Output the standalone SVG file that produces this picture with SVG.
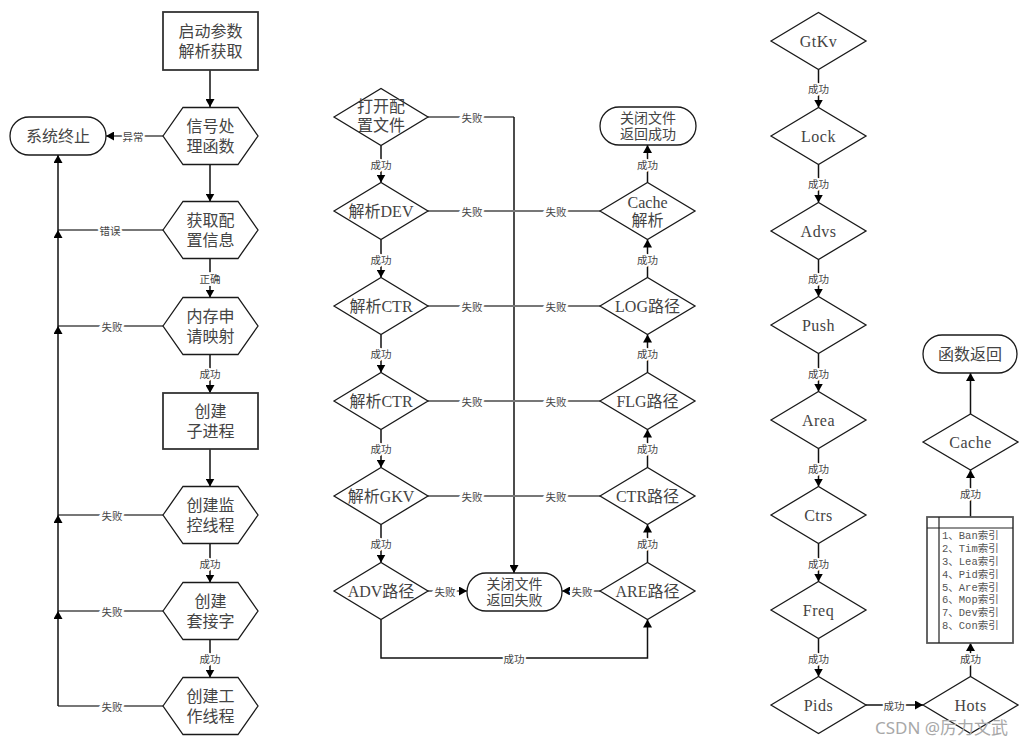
<svg xmlns="http://www.w3.org/2000/svg" width="1027" height="745" viewBox="0 0 1027 745">
<style>
.shape{fill:#fff;stroke:#1a1a1a;stroke-width:1.3}
.box{fill:#fff;stroke:#333;stroke-width:1.8}
.t{font-family:"Liberation Serif","Noto Sans CJK SC",serif;font-size:16px;fill:#444;text-anchor:middle;dominant-baseline:central}
.tm{font-family:"Liberation Serif","Noto Sans CJK SC",serif;font-size:16px;fill:#444;text-anchor:middle;dominant-baseline:central;letter-spacing:0.5px}
.ts{font-family:"Liberation Serif","Noto Sans CJK SC",serif;font-size:14px;fill:#444;text-anchor:middle;dominant-baseline:central}
.tt{font-family:"Liberation Mono","Noto Sans CJK SC",monospace;font-size:10.5px;fill:#555;dominant-baseline:central}
.c{fill:none;stroke:#111;stroke-width:1.5}
.g{fill:none;stroke:#777;stroke-width:2}
.a{marker-end:url(#arr)}
.l{font-family:"Noto Sans CJK SC",sans-serif;font-size:10.5px;fill:#444;text-anchor:middle;dominant-baseline:central;stroke:#fff;stroke-width:4;paint-order:stroke}
.wm{font-family:"Noto Sans","Noto Sans CJK SC",sans-serif;font-size:17px;fill:#a8a8a8}
</style>
<defs>
<marker id="arr" markerUnits="userSpaceOnUse" markerWidth="9" markerHeight="9" refX="8" refY="4.5" orient="auto">
<path d="M0,0 L8,4.5 L0,9 z" fill="#000"/>
</marker>
</defs>

<g id="connectors">
<!-- left column -->
<path class="c a" d="M210,70 V107"/>
<path class="c a" d="M210,164.5 V201.5"/>
<path class="c a" d="M210,258.5 V297.5"/>
<path class="c a" d="M210,354.5 V393"/>
<path class="c a" d="M210,449 V486.5"/>
<path class="c a" d="M210,543.5 V582.5"/>
<path class="c a" d="M210,639.5 V677.5"/>
<path class="g a" d="M163,136 H106"/>
<path class="g" d="M163,230 H58"/>
<path class="g" d="M163,326 H58"/>
<path class="g" d="M163,515 H58"/>
<path class="g" d="M163,611 H58"/>
<path class="g" d="M163,706 H58"/>
<path class="c a" d="M58,706 V611"/>
<path class="c a" d="M58,611 V515"/>
<path class="c a" d="M58,515 V326"/>
<path class="c a" d="M58,326 V230"/>
<path class="c a" d="M58,230 V155"/>
<text class="l" x="133" y="136">异常</text>
<text class="l" x="110" y="230">错误</text>
<text class="l" x="112" y="326">失败</text>
<text class="l" x="112" y="515">失败</text>
<text class="l" x="112" y="611">失败</text>
<text class="l" x="112" y="706">失败</text>
<text class="l" x="210" y="278">正确</text>
<text class="l" x="210" y="373">成功</text>
<text class="l" x="210" y="563">成功</text>
<text class="l" x="210" y="658">成功</text>

<!-- middle column -->
<path class="c a" d="M381,145.5 V182.5"/>
<path class="c a" d="M381,239.5 V277.5"/>
<path class="c a" d="M381,334.5 V372.5"/>
<path class="c a" d="M381,429.5 V467.5"/>
<path class="c a" d="M381,524.5 V562.5"/>
<path class="c a" d="M647.5,562.5 V524.5"/>
<path class="c a" d="M647.5,467.5 V429.5"/>
<path class="c a" d="M647.5,372.5 V334.5"/>
<path class="c a" d="M647.5,277.5 V239.5"/>
<path class="c a" d="M647.5,182.5 V145"/>
<path class="g" d="M428,117 H514"/>
<path class="c a" d="M514,117 V573"/>
<path class="g" d="M428,211 H514"/>
<path class="g" d="M428,306 H514"/>
<path class="g" d="M428,401 H514"/>
<path class="g" d="M428,496 H514"/>
<path class="g" d="M600,211 H514"/>
<path class="g" d="M600,306 H514"/>
<path class="g" d="M600,401 H514"/>
<path class="g" d="M600,496 H514"/>
<path class="g a" d="M428,591 H467"/>
<path class="g a" d="M600,591 H562"/>
<path class="c a" d="M381,619.5 V658 H647.5 V619.5"/>
<text class="l" x="381" y="164">成功</text>
<text class="l" x="381" y="259">成功</text>
<text class="l" x="381" y="353">成功</text>
<text class="l" x="381" y="448">成功</text>
<text class="l" x="381" y="543">成功</text>
<text class="l" x="647.5" y="164">成功</text>
<text class="l" x="647.5" y="259">成功</text>
<text class="l" x="647.5" y="353">成功</text>
<text class="l" x="647.5" y="448">成功</text>
<text class="l" x="647.5" y="543">成功</text>
<text class="l" x="472" y="117">失败</text>
<text class="l" x="472" y="211">失败</text>
<text class="l" x="472" y="306">失败</text>
<text class="l" x="472" y="401">失败</text>
<text class="l" x="472" y="496">失败</text>
<text class="l" x="556" y="211">失败</text>
<text class="l" x="556" y="306">失败</text>
<text class="l" x="556" y="401">失败</text>
<text class="l" x="556" y="496">失败</text>
<text class="l" x="445" y="591">失败</text>
<text class="l" x="582" y="591">失败</text>
<text class="l" x="514" y="658">成功</text>

<!-- right column -->
<path class="c a" d="M818.5,69.5 V107.5"/>
<path class="c a" d="M818.5,164.5 V202.5"/>
<path class="c a" d="M818.5,259.5 V296.5"/>
<path class="c a" d="M818.5,353.5 V391.5"/>
<path class="c a" d="M818.5,448.5 V486.5"/>
<path class="c a" d="M818.5,543.5 V581.5"/>
<path class="c a" d="M818.5,638.5 V676.5"/>
<path class="c a" d="M866,705 H923"/>
<path class="c a" d="M970.5,676.5 V643"/>
<path class="c a" d="M970.5,517 V470"/>
<path class="c a" d="M970.5,414 V373"/>
<text class="l" x="818.5" y="88">成功</text>
<text class="l" x="818.5" y="183">成功</text>
<text class="l" x="818.5" y="278">成功</text>
<text class="l" x="818.5" y="373">成功</text>
<text class="l" x="818.5" y="468">成功</text>
<text class="l" x="818.5" y="563">成功</text>
<text class="l" x="818.5" y="658">成功</text>
<text class="l" x="894" y="705">成功</text>
<text class="l" x="970.5" y="658">成功</text>
<text class="l" x="970.5" y="493">成功</text>
</g>

<!-- left column nodes -->
<g id="n_start">
<rect class="box" x="163" y="12" width="95" height="58"/>
<text class="t" x="210.5" y="31">启动参数</text>
<text class="t" x="210.5" y="51">解析获取</text>
</g>
<g id="n_signal">
<polygon class="shape" points="163,136 183,107.5 238,107.5 258,136 238,164.5 183,164.5"/>
<text class="t" x="210.5" y="126">信号处</text>
<text class="t" x="210.5" y="146">理函数</text>
</g>
<g id="n_stop">
<rect class="shape" x="10" y="117" width="96" height="38" rx="19"/>
<text class="t" x="58" y="136">系统终止</text>
</g>
<g id="n_config">
<polygon class="shape" points="163,230 183,201.5 238,201.5 258,230 238,258.5 183,258.5"/>
<text class="t" x="210.5" y="220">获取配</text>
<text class="t" x="210.5" y="240">置信息</text>
</g>
<g id="n_mem">
<polygon class="shape" points="163,326 183,297.5 238,297.5 258,326 238,354.5 183,354.5"/>
<text class="t" x="210.5" y="316">内存申</text>
<text class="t" x="210.5" y="336">请映射</text>
</g>
<g id="n_child">
<rect class="box" x="163" y="393" width="95" height="56"/>
<text class="t" x="210.5" y="411">创建</text>
<text class="t" x="210.5" y="431">子进程</text>
</g>
<g id="n_monitor">
<polygon class="shape" points="163,515 183,486.5 238,486.5 258,515 238,543.5 183,543.5"/>
<text class="t" x="210.5" y="505">创建监</text>
<text class="t" x="210.5" y="525">控线程</text>
</g>
<g id="n_socket">
<polygon class="shape" points="163,611 183,582.5 238,582.5 258,611 238,639.5 183,639.5"/>
<text class="t" x="210.5" y="601">创建</text>
<text class="t" x="210.5" y="621">套接字</text>
</g>
<g id="n_worker">
<polygon class="shape" points="163,706 183,677.5 238,677.5 258,706 238,734.5 183,734.5"/>
<text class="t" x="210.5" y="696">创建工</text>
<text class="t" x="210.5" y="716">作线程</text>
</g>

<!-- middle column nodes -->
<g id="n_open">
<polygon class="shape" points="334,117 381,88.5 428,117 381,145.5"/>
<text class="t" x="381" y="106">打开配</text>
<text class="t" x="381" y="125">置文件</text>
</g>
<g id="n_dev">
<polygon class="shape" points="334,211 381,182.5 428,211 381,239.5"/>
<text class="t" x="381" y="211">解析DEV</text>
</g>
<g id="n_ctr1">
<polygon class="shape" points="334,306 381,277.5 428,306 381,334.5"/>
<text class="t" x="381" y="306">解析CTR</text>
</g>
<g id="n_ctr2">
<polygon class="shape" points="334,401 381,372.5 428,401 381,429.5"/>
<text class="t" x="381" y="401">解析CTR</text>
</g>
<g id="n_gkv">
<polygon class="shape" points="334,496 381,467.5 428,496 381,524.5"/>
<text class="t" x="381" y="496">解析GKV</text>
</g>
<g id="n_adv">
<polygon class="shape" points="334,591 381,562.5 428,591 381,619.5"/>
<text class="t" x="381" y="591">ADV路径</text>
</g>
<g id="n_fail">
<rect class="shape" x="467" y="573" width="95" height="38" rx="19"/>
<text class="ts" x="514.5" y="584">关闭文件</text>
<text class="ts" x="514.5" y="600">返回失败</text>
</g>
<g id="n_ok">
<rect class="shape" x="600" y="107" width="96" height="38" rx="19"/>
<text class="ts" x="648" y="118">关闭文件</text>
<text class="ts" x="648" y="134">返回成功</text>
</g>
<g id="n_cache1">
<polygon class="shape" points="600,211 647.5,182.5 695,211 647.5,239.5"/>
<text class="t" x="647.5" y="202">Cache</text>
<text class="t" x="647.5" y="220">解析</text>
</g>
<g id="n_log">
<polygon class="shape" points="600,306 647.5,277.5 695,306 647.5,334.5"/>
<text class="t" x="647.5" y="306">LOG路径</text>
</g>
<g id="n_flg">
<polygon class="shape" points="600,401 647.5,372.5 695,401 647.5,429.5"/>
<text class="t" x="647.5" y="401">FLG路径</text>
</g>
<g id="n_ctrp">
<polygon class="shape" points="600,496 647.5,467.5 695,496 647.5,524.5"/>
<text class="t" x="647.5" y="496">CTR路径</text>
</g>
<g id="n_are">
<polygon class="shape" points="600,591 647.5,562.5 695,591 647.5,619.5"/>
<text class="t" x="647.5" y="591">ARE路径</text>
</g>

<!-- right column nodes -->
<g id="n_gtkv">
<polygon class="shape" points="771,41 818.5,12.5 866,41 818.5,69.5"/>
<text class="tm" x="818.5" y="41">GtKv</text>
</g>
<g id="n_lock">
<polygon class="shape" points="771,136 818.5,107.5 866,136 818.5,164.5"/>
<text class="tm" x="818.5" y="136">Lock</text>
</g>
<g id="n_advs">
<polygon class="shape" points="771,231 818.5,202.5 866,231 818.5,259.5"/>
<text class="tm" x="818.5" y="231">Advs</text>
</g>
<g id="n_push">
<polygon class="shape" points="771,325 818.5,296.5 866,325 818.5,353.5"/>
<text class="tm" x="818.5" y="325">Push</text>
</g>
<g id="n_area">
<polygon class="shape" points="771,420 818.5,391.5 866,420 818.5,448.5"/>
<text class="tm" x="818.5" y="420">Area</text>
</g>
<g id="n_ctrs">
<polygon class="shape" points="771,515 818.5,486.5 866,515 818.5,543.5"/>
<text class="tm" x="818.5" y="515">Ctrs</text>
</g>
<g id="n_freq">
<polygon class="shape" points="771,610 818.5,581.5 866,610 818.5,638.5"/>
<text class="tm" x="818.5" y="610">Freq</text>
</g>
<g id="n_pids">
<polygon class="shape" points="771,705 818.5,676.5 866,705 818.5,733.5"/>
<text class="tm" x="818.5" y="705">Pids</text>
</g>
<g id="n_hots">
<polygon class="shape" points="923,705 970.5,676.5 1018,705 970.5,733.5"/>
<text class="tm" x="970.5" y="705">Hots</text>
</g>
<g id="n_index">
<rect x="927" y="517" width="86" height="126" fill="#fff" stroke="#555" stroke-width="1.8"/>
<path d="M927,528 H1013 M939,517 V643" stroke="#222" stroke-width="1.2" fill="none"/>
<text class="tt" x="942" y="536">1、Ban索引</text>
<text class="tt" x="942" y="549">2、Tim索引</text>
<text class="tt" x="942" y="562">3、Lea索引</text>
<text class="tt" x="942" y="575">4、Pid索引</text>
<text class="tt" x="942" y="588">5、Are索引</text>
<text class="tt" x="942" y="600">6、Mop索引</text>
<text class="tt" x="942" y="613">7、Dev索引</text>
<text class="tt" x="942" y="626">8、Con索引</text>
</g>
<g id="n_cache2">
<polygon class="shape" points="923,442 970.5,414 1018,442 970.5,470"/>
<text class="tm" x="970.5" y="442">Cache</text>
</g>
<g id="n_return">
<rect class="shape" x="923" y="335" width="94" height="38" rx="19"/>
<text class="t" x="970" y="354">函数返回</text>
</g>

<text class="wm" x="875" y="734">CSDN @厉力文武</text>
</svg>
